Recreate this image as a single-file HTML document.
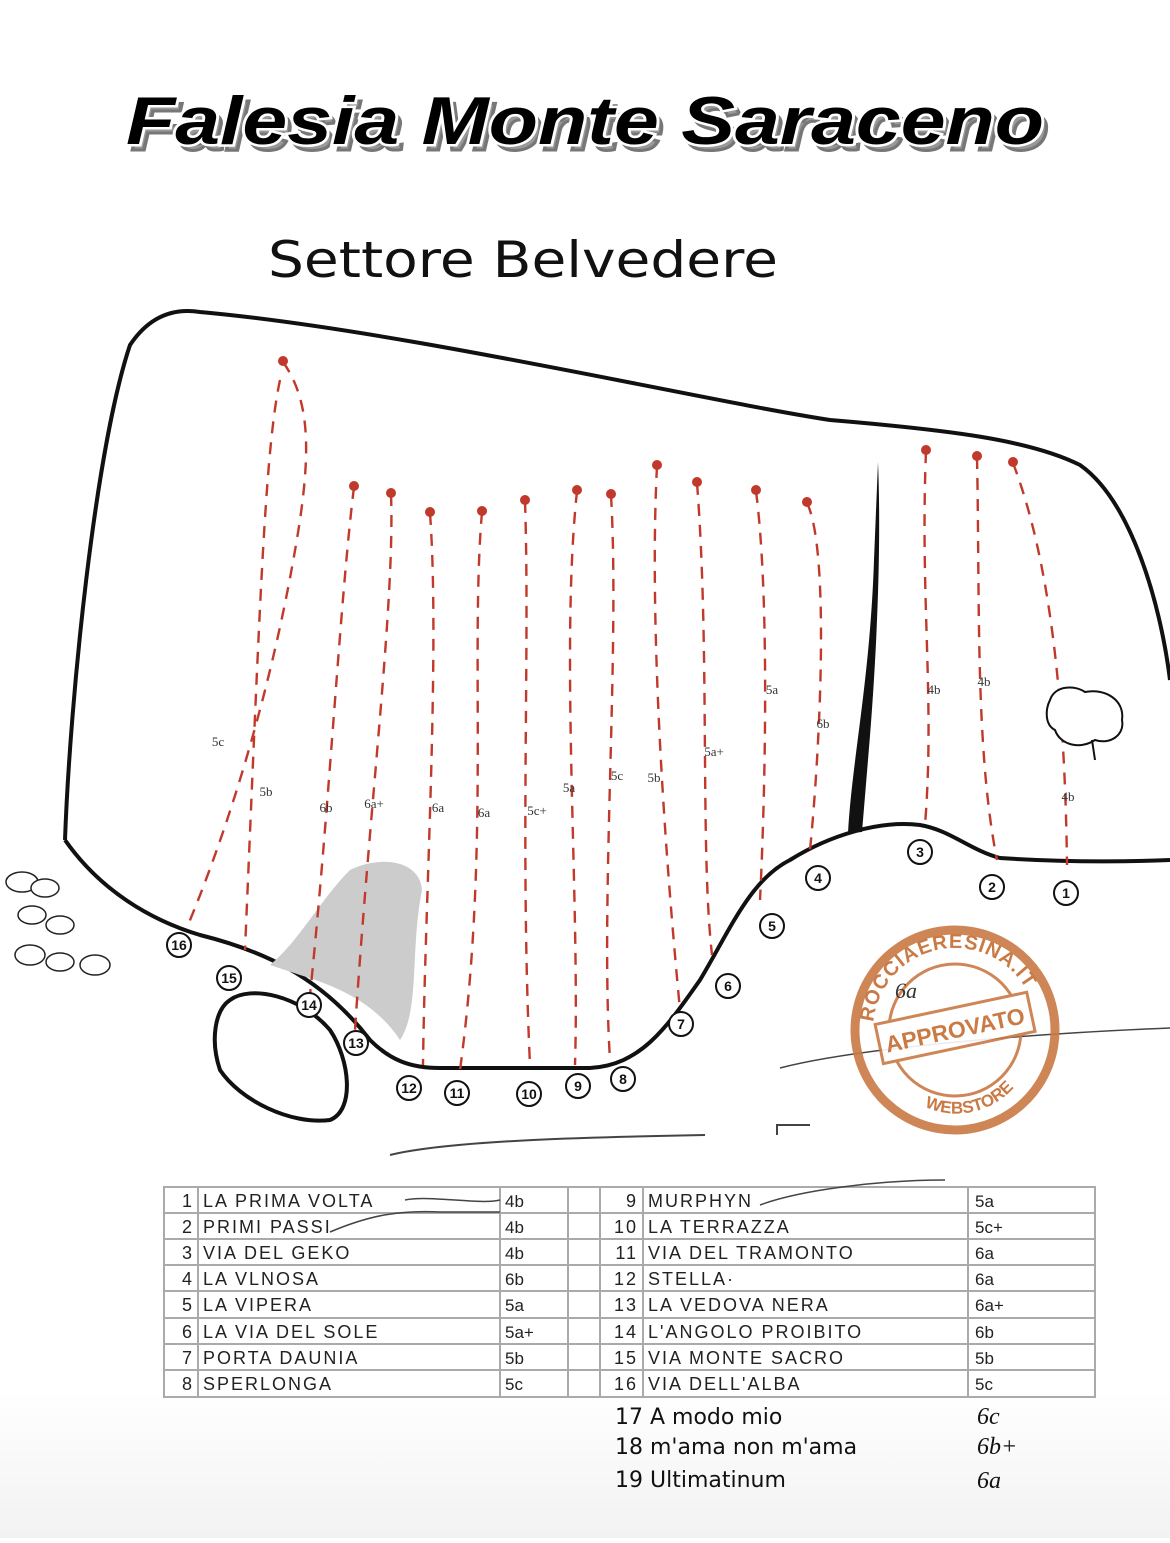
<!DOCTYPE html>
<html><head><meta charset="utf-8"><style>
body{margin:0;background:#fff;width:1170px;height:1538px;overflow:hidden;font-family:"Liberation Sans",sans-serif}
</style></head><body>
<svg width="1170" height="1538" xmlns="http://www.w3.org/2000/svg">
<defs>
<linearGradient id="bg" x1="0" y1="0" x2="0" y2="1"><stop offset="0" stop-color="#fff"/><stop offset="1" stop-color="#f2f2f2"/></linearGradient>
<path id="arcTop" d="M873,1030 A82,82 0 0 1 1037,1030"/>
<path id="arcBot" d="M880,1050 A76,76 0 0 0 1030,1050"/>
</defs>
<rect width="1170" height="1538" fill="#fff"/>
<rect y="1390" width="1170" height="148" fill="url(#bg)"/>
<g font-family="Liberation Sans, sans-serif" font-weight="bold" font-style="italic" font-size="68">
<text x="131" y="150" textLength="918" lengthAdjust="spacingAndGlyphs" fill="#999" stroke="#777" stroke-width="3">Falesia Monte Saraceno</text>
<text x="126" y="144" textLength="918" lengthAdjust="spacingAndGlyphs" fill="#000" stroke="#fff" stroke-width="5" paint-order="stroke">Falesia Monte Saraceno</text>
</g>
<text x="268" y="277" textLength="510" lengthAdjust="spacingAndGlyphs" font-family="DejaVu Sans, sans-serif" font-size="50" fill="#111">Settore Belvedere</text>

<path d="M65,840 C70,700 95,450 130,345 C150,315 175,308 200,312 C400,330 700,400 830,420 C950,430 1030,440 1080,465 C1130,500 1160,600 1170,680" fill="none" stroke="#111" stroke-width="4"/>
<path d="M65,840 C100,890 150,920 200,935 C260,950 320,975 370,1040 C390,1060 410,1068 440,1068 L590,1068 C640,1065 665,1030 700,980 C730,930 750,880 790,860 C830,835 880,820 920,825 C950,830 970,850 1000,858 C1060,862 1120,862 1170,860" fill="none" stroke="#111" stroke-width="4"/>
<path d="M878,462 C882,560 875,680 868,760 L862,832 L848,833 C852,760 870,680 874,560 Z" fill="#111"/>
<path d="M230,1000 C250,985 300,995 330,1030 C350,1060 355,1110 330,1120 C290,1125 240,1100 220,1070 C210,1040 215,1010 230,1000 Z" fill="#fff" stroke="#111" stroke-width="4"/>
<path d="M270,965 C300,940 320,900 350,870 C380,855 420,860 422,890 C410,950 420,1010 400,1040 C380,1010 350,990 300,975 Z" fill="#ccc"/>
<path d="M390,1155 C450,1140 600,1137 705,1135" fill="none" stroke="#444" stroke-width="2"/>
<path d="M777,1135 L777,1125 L810,1125" fill="none" stroke="#444" stroke-width="2"/>
<path d="M780,1068 C850,1050 1000,1035 1170,1028" fill="none" stroke="#444" stroke-width="1.5"/>

<g fill="none" stroke="#c0392b" stroke-width="2.4" stroke-dasharray="12,9">
<path d="M283,362 C310,400 310,450 300,520 C280,650 240,800 188,925"/>
<path d="M280,380 C265,450 260,600 245,950"/>
<path d="M354,487 C340,600 330,800 310,995"/>
<path d="M391,494 C395,600 370,800 355,1030"/>
<path d="M430,513 C440,650 425,900 423,1065"/>
<path d="M482,512 C470,650 490,850 460,1070"/>
<path d="M525,501 C530,650 520,850 530,1065"/>
<path d="M577,491 C560,650 580,900 575,1065"/>
<path d="M611,495 C620,650 600,900 610,1060"/>
<path d="M657,466 C650,600 660,800 680,1010"/>
<path d="M697,483 C710,650 700,850 712,955"/>
<path d="M756,491 C770,600 765,800 760,900"/>
<path d="M807,503 C830,550 820,750 810,850"/>
<path d="M926,451 C920,600 935,700 925,825"/>
<path d="M977,457 C980,600 975,750 997,860"/>
<path d="M1013,463 C1050,560 1065,700 1067,865"/>
</g>
<g fill="#c0392b">
<circle cx="283" cy="361" r="5"/><circle cx="354" cy="486" r="5"/><circle cx="391" cy="493" r="5"/><circle cx="430" cy="512" r="5"/><circle cx="482" cy="511" r="5"/><circle cx="525" cy="500" r="5"/><circle cx="577" cy="490" r="5"/><circle cx="611" cy="494" r="5"/><circle cx="657" cy="465" r="5"/><circle cx="697" cy="482" r="5"/><circle cx="756" cy="490" r="5"/><circle cx="807" cy="502" r="5"/><circle cx="926" cy="450" r="5"/><circle cx="977" cy="456" r="5"/><circle cx="1013" cy="462" r="5"/>
</g>
<g font-family="Liberation Serif, serif" font-size="13" fill="#333" text-anchor="middle">
<text x="218" y="746">5c</text><text x="266" y="796">5b</text><text x="326" y="812">6b</text><text x="374" y="808">6a+</text><text x="438" y="812">6a</text><text x="484" y="817">6a</text><text x="537" y="815">5c+</text><text x="569" y="792">5a</text><text x="617" y="780">5c</text><text x="654" y="782">5b</text><text x="714" y="756">5a+</text><text x="772" y="694">5a</text><text x="823" y="728">6b</text><text x="934" y="694">4b</text><text x="984" y="686">4b</text><text x="1068" y="801">4b</text>
</g>
<g font-family="Liberation Sans, sans-serif" font-weight="bold" font-size="14" text-anchor="middle" fill="#111">
<g fill="#fff" stroke="#111" stroke-width="2">
<circle cx="1066" cy="893" r="12"/><circle cx="992" cy="887" r="12"/><circle cx="920" cy="852" r="12"/><circle cx="818" cy="878" r="12"/><circle cx="772" cy="926" r="12"/><circle cx="728" cy="986" r="12"/><circle cx="681" cy="1024" r="12"/><circle cx="623" cy="1079" r="12"/><circle cx="578" cy="1086" r="12"/><circle cx="529" cy="1094" r="12"/><circle cx="457" cy="1093" r="12"/><circle cx="409" cy="1088" r="12"/><circle cx="356" cy="1043" r="12"/><circle cx="309" cy="1005" r="12"/><circle cx="229" cy="978" r="12"/><circle cx="179" cy="945" r="12"/>
</g>
<text x="1066" y="898">1</text><text x="992" y="892">2</text><text x="920" y="857">3</text><text x="818" y="883">4</text><text x="772" y="931">5</text><text x="728" y="991">6</text><text x="681" y="1029">7</text><text x="623" y="1084">8</text><text x="578" y="1091">9</text><text x="529" y="1099">10</text><text x="457" y="1098">11</text><text x="409" y="1093">12</text><text x="356" y="1048">13</text><text x="309" y="1010">14</text><text x="229" y="983">15</text><text x="179" y="950">16</text>
</g>
<g fill="#fff" stroke="#111" stroke-width="2">
<path d="M1050,700 C1055,685 1075,685 1085,692 C1105,688 1125,700 1122,720 C1125,735 1110,745 1095,740 C1080,750 1060,745 1055,730 C1045,725 1045,710 1050,700 Z"/>
<path d="M1092,740 L1095,760"/>
</g>
<g fill="#fff" stroke="#222" stroke-width="1.5">
<ellipse cx="22" cy="882" rx="16" ry="10"/><ellipse cx="45" cy="888" rx="14" ry="9"/><ellipse cx="32" cy="915" rx="14" ry="9"/><ellipse cx="60" cy="925" rx="14" ry="9"/><ellipse cx="30" cy="955" rx="15" ry="10"/><ellipse cx="60" cy="962" rx="14" ry="9"/><ellipse cx="95" cy="965" rx="15" ry="10"/>
</g>
<g transform="rotate(-12 955 1030)">
<g fill="none" stroke="#c97a45" opacity="0.9">
<circle cx="955" cy="1030" r="100" stroke-width="9"/>
<circle cx="955" cy="1030" r="66" stroke-width="3"/>
<rect x="878" y="1008" width="155" height="40" fill="#fff" stroke-width="3"/>
</g>
<g font-family="Liberation Sans, sans-serif" font-weight="bold" fill="#c97a45" text-anchor="middle">
<text x="955" y="1038" font-size="23">APPROVATO</text>
<text font-size="20" letter-spacing="1"><textPath href="#arcTop" startOffset="50%">ROCCIAERESINA.IT</textPath></text>
<text font-size="17"><textPath href="#arcBot" startOffset="50%" dy="14">WEBSTORE</textPath></text>
</g>
</g>
<text x="895" y="998" font-family="Liberation Serif, serif" font-style="italic" font-size="22" fill="#333">6a</text>

<g stroke="#aaa" stroke-width="2" fill="none">
<rect x="164" y="1187" width="931" height="210"/>
<line x1="198" y1="1187" x2="198" y2="1397"/><line x1="500" y1="1187" x2="500" y2="1397"/><line x1="568" y1="1187" x2="568" y2="1397"/><line x1="600" y1="1187" x2="600" y2="1397"/><line x1="643" y1="1187" x2="643" y2="1397"/><line x1="968" y1="1187" x2="968" y2="1397"/>
<line x1="164" y1="1213" x2="1095" y2="1213"/><line x1="164" y1="1239" x2="1095" y2="1239"/><line x1="164" y1="1265" x2="1095" y2="1265"/><line x1="164" y1="1291" x2="1095" y2="1291"/><line x1="164" y1="1318" x2="1095" y2="1318"/><line x1="164" y1="1344" x2="1095" y2="1344"/><line x1="164" y1="1370" x2="1095" y2="1370"/>
</g>
<g font-family="Liberation Sans, sans-serif" font-size="18" fill="#222" letter-spacing="2">
<g text-anchor="end"><text x="194" y="1207">1</text><text x="194" y="1233">2</text><text x="194" y="1259">3</text><text x="194" y="1285">4</text><text x="194" y="1311">5</text><text x="194" y="1338">6</text><text x="194" y="1364">7</text><text x="194" y="1390">8</text>
<text x="638" y="1207">9</text><text x="638" y="1233">10</text><text x="638" y="1259">11</text><text x="638" y="1285">12</text><text x="638" y="1311">13</text><text x="638" y="1338">14</text><text x="638" y="1364">15</text><text x="638" y="1390">16</text></g>
<text x="203" y="1207">LA PRIMA VOLTA</text><text x="203" y="1233">PRIMI PASSI</text><text x="203" y="1259">VIA DEL GEKO</text><text x="203" y="1285">LA VLNOSA</text><text x="203" y="1311">LA VIPERA</text><text x="203" y="1338">LA VIA DEL SOLE</text><text x="203" y="1364">PORTA DAUNIA</text><text x="203" y="1390">SPERLONGA</text>
<text x="648" y="1207">MURPHYN</text><text x="648" y="1233">LA TERRAZZA</text><text x="648" y="1259">VIA DEL TRAMONTO</text><text x="648" y="1285">STELLA·</text><text x="648" y="1311">LA VEDOVA NERA</text><text x="648" y="1338">L'ANGOLO PROIBITO</text><text x="648" y="1364">VIA MONTE SACRO</text><text x="648" y="1390">VIA DELL'ALBA</text>
</g>
<g font-family="Liberation Sans, sans-serif" font-size="17" fill="#222">
<text x="505" y="1207">4b</text><text x="505" y="1233">4b</text><text x="505" y="1259">4b</text><text x="505" y="1285">6b</text><text x="505" y="1311">5a</text><text x="505" y="1338">5a+</text><text x="505" y="1364">5b</text><text x="505" y="1390">5c</text>
<text x="975" y="1207">5a</text><text x="975" y="1233">5c+</text><text x="975" y="1259">6a</text><text x="975" y="1285">6a</text><text x="975" y="1311">6a+</text><text x="975" y="1338">6b</text><text x="975" y="1364">5b</text><text x="975" y="1390">5c</text>
</g>
<path d="M405,1200 C430,1195 480,1205 500,1200 M330,1232 C370,1215 400,1210 440,1212 L500,1212 M760,1205 C800,1190 880,1180 945,1180" fill="none" stroke="#444" stroke-width="1.5"/>
<g font-family="DejaVu Sans, sans-serif" font-size="22" fill="#111">
<text x="615" y="1424">17 A modo mio</text><text x="615" y="1454">18 m'ama non m'ama</text><text x="615" y="1487">19 Ultimatinum</text>
</g>
<g font-family="Liberation Serif, serif" font-style="italic" font-size="24" fill="#111">
<text x="977" y="1424">6c</text><text x="977" y="1454">6b+</text><text x="977" y="1488">6a</text>
</g>
</svg>
</body></html>
